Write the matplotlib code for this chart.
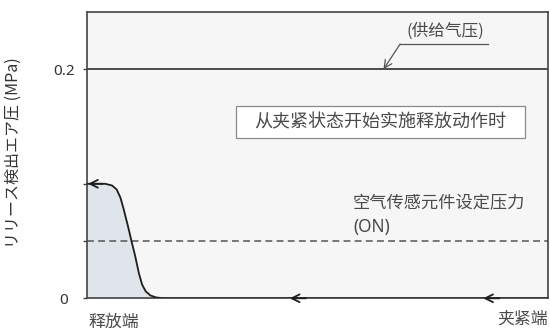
"""释放检测气压曲线：从夹紧状态开始实施释放动作时。"""

import matplotlib

matplotlib.use("Agg")
import matplotlib.pyplot as plt
from matplotlib.patches import Rectangle

plt.rcParams["font.family"] = ["Noto Sans CJK SC", "DejaVu Sans"]

# 行程位置（0 = 释放端, 100 = 夹紧端）与检测气压 (MPa)
stroke = [0.0, 4.0, 5.5, 6.5, 7.3, 8.0, 9.0, 9.7, 10.5, 11.3, 12.0, 12.8, 13.8, 15.0, 16.5, 100.0]
pressure = [0.100, 0.100, 0.0985, 0.095, 0.088, 0.078, 0.062, 0.050, 0.037, 0.022, 0.012,
            0.006, 0.0025, 0.0008, 0.0, 0.0]

supply_pressure = 0.2
sensor_setting = 0.05
y_max = 0.25

y_ticks = [0, 0.05, 0.1, 0.2]
y_tick_labels = ["0", "", "", "0.2"]

ylabel = "リリース検出エア圧 (MPa)"
supply_label = "(供给气压)"
box_label = "从夹紧状态开始实施释放动作时"
sensor_label_1 = "空气传感元件设定压力"
sensor_label_2 = "(ON)"
left_end_label = "释放端"
right_end_label = "夹紧端"

LINE = "#1e1e1e"
TEXT = "#4a4a4a"

fig = plt.figure(figsize=(5.5, 3.31), dpi=100)
ax = fig.add_axes([0.1576, 0.0988, 0.8393, 0.8649])
ax.set_facecolor("#f6f6f6")
ax.set_xlim(0, 100)
ax.set_ylim(0, y_max)

ax.fill_between(stroke, pressure, 0, color="#dfe5ea", zorder=1)
ax.plot(stroke, pressure, color=LINE, lw=1.3, zorder=3, solid_capstyle="butt")

ax.axhline(supply_pressure, color=LINE, lw=1.1, zorder=2)
ax.axhline(sensor_setting, color="#555555", lw=1.1, dashes=(4.5, 2.8), zorder=2)

arrow = dict(arrowstyle="->", color=LINE, lw=1.3, mutation_scale=14, shrinkA=0, shrinkB=0)
ax.annotate("", xy=(0.3, 0.1), xytext=(3.5, 0.1), arrowprops=arrow, zorder=4)
ax.annotate("", xy=(44.0, 0.0), xytext=(47.5, 0.0), arrowprops=arrow, zorder=4)
ax.annotate("", xy=(85.9, 0.0), xytext=(89.4, 0.0), arrowprops=arrow, zorder=4)

# 供给气压引出线
ax.plot([86.9, 67.9], [0.222, 0.222], color="#555555", lw=0.9, zorder=3)
ax.annotate("", xy=(64.3, 0.2), xytext=(67.9, 0.222),
            arrowprops=dict(arrowstyle="->", color="#555555", lw=0.9, mutation_scale=14,
                            shrinkA=0, shrinkB=0), zorder=4)
ax.text(77.6, 0.2335, supply_label, ha="center", va="center", fontsize=12, color=TEXT)

ax.add_patch(Rectangle((32.3, 0.140), 62.7, 0.028, facecolor="white",
                       edgecolor="#8a8a8a", lw=0.9, zorder=3))
ax.text(63.6, 0.154, box_label, ha="center", va="center", fontsize=13, color=TEXT, zorder=4)

ax.text(57.7, 0.083, sensor_label_1, ha="left", va="center", fontsize=12.4, color=TEXT)
ax.text(57.7, 0.062, sensor_label_2, ha="left", va="center", fontsize=12.4, color=TEXT,
        family=["Noto Sans", "DejaVu Sans"])

ax.text(0.3, -0.0205, left_end_label, ha="left", va="center", fontsize=12.2,
        color=TEXT, clip_on=False)
ax.text(100, -0.018, right_end_label, ha="right", va="center", fontsize=12.2,
        color=TEXT, clip_on=False)

for spine in ax.spines.values():
    spine.set_color("#444444")
    spine.set_linewidth(1.2)

ax.set_xticks([])
ax.set_yticks(y_ticks)
ax.set_yticklabels(y_tick_labels, family=["Noto Sans", "DejaVu Sans"], fontsize=11, color="#333333")
ax.tick_params(axis="y", direction="out", length=3, width=1, color="#444444", pad=13.5)
for lbl in ax.get_yticklabels():
    lbl.set_horizontalalignment("center")

ax.set_ylabel(ylabel, family=["Noto Sans CJK JP", "DejaVu Sans"], fontsize=11.5, color="#333333")
ax.yaxis.set_label_coords(-0.14, 0.51)

fig.savefig("out.png", dpi=100)
plt.close(fig)
